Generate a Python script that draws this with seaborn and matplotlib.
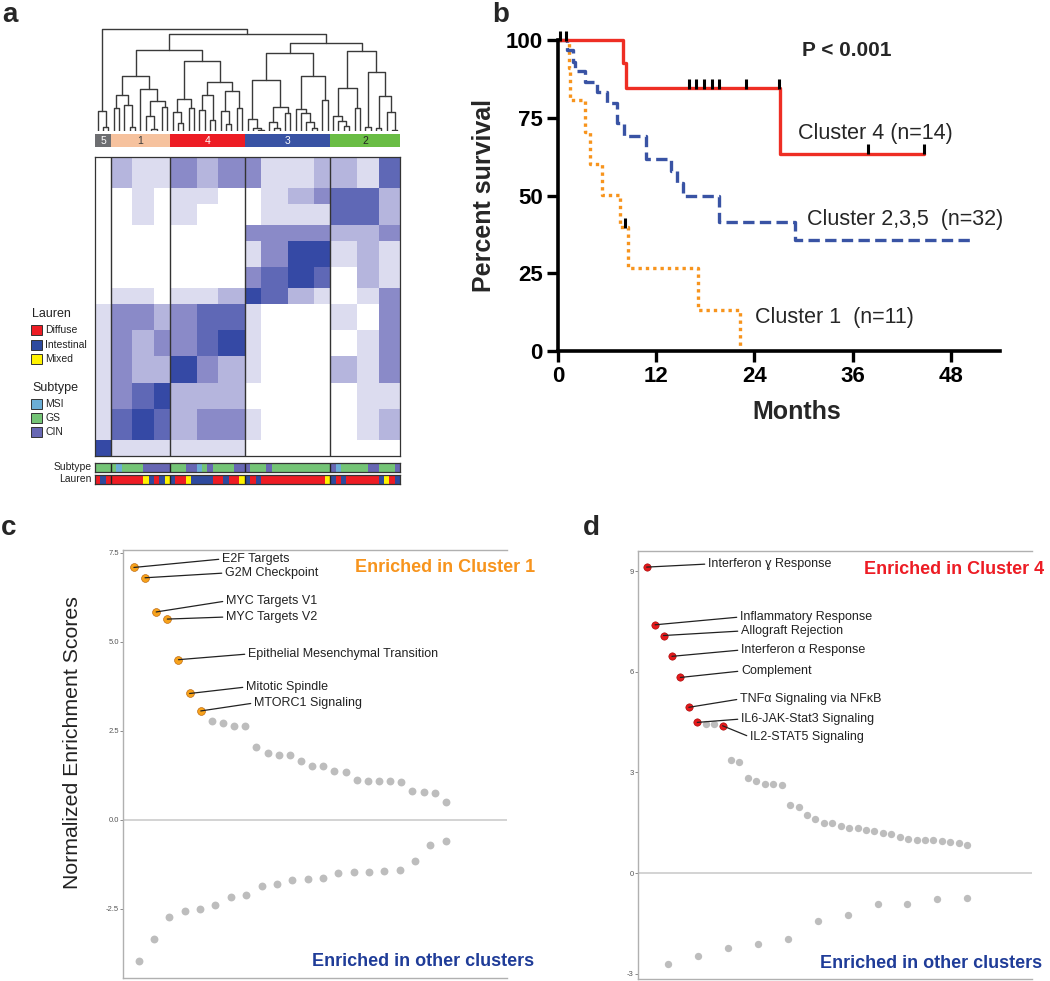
import numpy as np
import pandas as pd
import matplotlib.pyplot as plt
import seaborn as sns
from matplotlib.colors import ListedColormap
from matplotlib.patches import Rectangle

W, H = 1050, 981

# ---------------- panel a : consensus clustering ----------------
cluster_names = ['5', '1', '4', '3', '2']
cluster_sizes = [3, 11, 14, 16, 13]
cluster_colors = ['#6d6e71', '#f6c29e', '#ed1c24', '#3953a4', '#6abd45']
cluster_text = ['white', '#3a3a3a', 'white', 'white', '#222222']

L = 0  # leaf
tree_c5 = (60, L, (13, L, L))
tree_c1 = (165, (108, (68, L, L), (78, L, (11, L, L))),
           (125, L, (91, (46, L, (5, L, L)), (71, L, L))))
tree_c4 = (210, (96, (58, L, (25, L, L)), (70, L, L)),
           (146, (108, (63, L, L), (33, L, L)), (120, (61, L, (21, L, L)), (68, L, L))))
tree_c3 = (236, (152, (35, L, (8, L, (3, L, L))), (73, (28, L, (10, L, L)), (55, L, L))),
           (166, (65, L, (53, L, (28, L, (10, L, L)))), (93, L, L)))
tree_c2 = (241, (128, (46, L, (31, L, (16, L, L))), (70, L, L)),
           (178, (12, L, L), (106, (10, L, L), (56, L, (3, L, L)))))
tree = (308, tree_c5, (291, (243, tree_c1, tree_c4), (265, tree_c3, tree_c2)))

# heatmap intensity (0 = white .. 5 = dark blue), blocks of rows x blocks of samples
row_block_sizes = [6, 3, 4, 3, 5, 4, 3, 5, 5, 5, 5, 6, 3]
col_block_sizes = [3, 4, 4, 3, 5, 4, 5, 3, 5, 5, 3, 5, 4, 4]
block_levels = [
    [0, 2, 1, 1, 3, 2, 3, 3, 1, 1, 2, 2, 1, 4],
    [0, 0, 1, 0, 1, 1, 0, 0, 1, 2, 3, 4, 4, 2],
    [0, 0, 1, 0, 1, 0, 0, 0, 1, 1, 1, 4, 4, 2],
    [0, 0, 0, 0, 0, 0, 0, 3, 3, 3, 3, 2, 2, 3],
    [0, 0, 0, 0, 0, 0, 0, 1, 3, 5, 5, 1, 2, 1],
    [0, 0, 0, 0, 0, 0, 0, 3, 4, 5, 4, 0, 2, 1],
    [0, 1, 1, 0, 1, 1, 2, 5, 4, 2, 1, 0, 1, 3],
    [1, 3, 3, 2, 3, 4, 4, 1, 0, 0, 0, 1, 0, 3],
    [1, 3, 2, 3, 3, 4, 5, 1, 0, 0, 0, 0, 1, 3],
    [1, 3, 2, 2, 5, 3, 2, 1, 0, 0, 0, 2, 1, 3],
    [1, 3, 4, 5, 2, 2, 2, 0, 0, 0, 0, 0, 1, 1],
    [1, 4, 5, 4, 2, 3, 3, 1, 0, 0, 0, 0, 1, 2],
    [5, 1, 1, 1, 1, 1, 1, 0, 0, 0, 0, 0, 0, 0],
]
heat_colors = ['#ffffff', '#dcdcef', '#b5b5dd', '#8a8ac8', '#5f68b6', '#3549a5']

subtype_by_cluster = ['GGG', 'GMGGGGCCCCC', 'GGGCCMGCGGGGCC', 'CGGGCGGGGGGGGGGG', 'CMGGGGGCCGGGC']
lauren_by_cluster = ['DID', 'DDDDDDMIDIM', 'IDDMIIIIDDIDDM', 'IDIDDDDDDDDDDDDM', 'IDIDDDDDDIMDI']
subtype_codes = ['M', 'G', 'C']
subtype_names = ['MSI', 'GS', 'CIN']
subtype_colors = ['#6baed6', '#74c476', '#6767b3']
lauren_codes = ['D', 'I', 'M']
lauren_names = ['Diffuse', 'Intestinal', 'Mixed']
lauren_colors = ['#ed1c24', '#2e4a9e', '#fff200']

# ---------------- panel b : survival ----------------
c4_time = [0, 8.0, 8.3, 27.1, 44.7]
c4_surv = [100, 92.5, 84.6, 63.5, 63.5]
c235_time = [0, 1.1, 1.8, 2.1, 3.3, 4.8, 6.0, 7.2, 8.1, 10.7, 13.8, 14.5, 15.3, 19.7, 28.9, 50.8]
c235_surv = [100, 96.8, 93.0, 90.0, 86.6, 83.4, 79.8, 73.2, 69.1, 61.7, 57.9, 54.1, 49.8, 41.5, 35.6, 35.6]
c1_time = [0, 1.3, 1.5, 3.3, 3.9, 5.4, 7.6, 8.5, 17.1, 22.2]
c1_surv = [100, 90.9, 80.7, 70.5, 60.1, 50.1, 39.9, 26.7, 13.3, 0]
censor_time = [0.3, 1.0, 16.0, 16.8, 17.8, 18.8, 19.7, 23.0, 27.0, 37.9, 44.7, 8.2]
censor_surv = [100, 100, 84.6, 84.6, 84.6, 84.6, 84.6, 84.6, 84.6, 63.5, 63.5, 39.9]

# ---------------- panel c : NES cluster 1 ----------------
c_up = [7.09, 6.80, 5.84, 5.64, 4.50, 3.55, 3.06, 2.79, 2.72, 2.65, 2.65, 2.04, 1.87, 1.83,
        1.81, 1.65, 1.52, 1.52, 1.37, 1.34, 1.13, 1.10, 1.09, 1.08, 1.06, 0.81, 0.78, 0.75, 0.49]
c_down = [-3.96, -3.35, -2.74, -2.57, -2.50, -2.39, -2.16, -2.12, -1.85, -1.79, -1.69, -1.67,
          -1.63, -1.50, -1.45, -1.45, -1.43, -1.40, -1.15, -0.70, -0.58]
c_labels = ['E2F Targets', 'G2M Checkpoint', 'MYC Targets V1', 'MYC Targets V2',
            'Epithelial Mesenchymal Transition', 'Mitotic Spindle', 'MTORC1 Signaling']
c_label_idx = [0, 1, 2, 3, 4, 5, 6]

# ---------------- panel d : NES cluster 4 ----------------
d_up = [9.12, 7.40, 7.08, 6.46, 5.83, 4.94, 4.49, 4.44, 4.44, 4.39, 3.37, 3.31, 2.84, 2.75,
        2.65, 2.65, 2.62, 2.02, 1.96, 1.74, 1.60, 1.50, 1.50, 1.39, 1.35, 1.34, 1.28, 1.25,
        1.20, 1.16, 1.07, 1.01, 0.98, 0.97, 0.97, 0.95, 0.92, 0.89, 0.84]
d_down = [-2.71, -2.47, -2.23, -2.13, -1.98, -1.43, -1.25, -0.92, -0.92, -0.78, -0.74]
d_labels = ['Interferon \u0263 Response', 'Inflammatory Response', 'Allograft Rejection',
            'Interferon \u03b1 Response', 'Complement', 'TNF\u03b1 Signaling via NF\u03baB',
            'IL6-JAK-Stat3 Signaling', 'IL2-STAT5 Signaling']
d_label_idx = [0, 1, 2, 3, 4, 5, 6, 9]

sns.set_style('white')
plt.rcParams['font.family'] = ['Liberation Sans', 'DejaVu Sans']

fig = plt.figure(figsize=(W / 100, H / 100), dpi=100)


def add_ax(l, t, r, b, **kw):
    return fig.add_axes([l / W, 1 - b / H, (r - l) / W, (b - t) / H], **kw)


def draw_tree(node, ax, pos):
    if not isinstance(node, tuple):
        x = pos[0] + 0.5
        pos[0] += 1
        return x, 0
    h, left, right = node
    xl, hl = draw_tree(left, ax, pos)
    xr, hr = draw_tree(right, ax, pos)
    ax.plot([xl, xl, xr, xr], [hl, h, h, hr], color='#3a3a3a', lw=1.0)
    return (xl + xr) / 2, h


n_samp = sum(cluster_sizes)
bounds = np.cumsum(cluster_sizes)[:-1]

# dendrogram
ax_den = add_ax(95, 28, 400, 131)
draw_tree(tree, ax_den, [0])
ax_den.set_xlim(0, n_samp)
ax_den.set_ylim(0, 310)
ax_den.axis('off')

# cluster bar
ax_cl = add_ax(95, 134, 400, 147)
cl_idx = np.repeat(np.arange(len(cluster_sizes)), cluster_sizes)[None, :]
sns.heatmap(cl_idx, ax=ax_cl, cmap=ListedColormap(cluster_colors), vmin=-0.5, vmax=4.5,
            cbar=False, xticklabels=False, yticklabels=False)
starts = np.concatenate([[0], bounds])
for s, n, name, tc in zip(starts, cluster_sizes, cluster_names, cluster_text):
    ax_cl.text(s + n / 2, 0.55, name, ha='center', va='center', fontsize=7.5, color=tc)

# heatmap
ax_hm = add_ax(95, 157, 400, 456)
mat = np.repeat(np.repeat(np.array(block_levels), row_block_sizes, axis=0), col_block_sizes, axis=1)
sns.heatmap(mat, ax=ax_hm, cmap=ListedColormap(heat_colors), vmin=-0.5, vmax=5.5,
            cbar=False, xticklabels=False, yticklabels=False)
for b in bounds:
    ax_hm.axvline(b, color='#333333', lw=1.0)
for sp in ax_hm.spines.values():
    sp.set_visible(True)
    sp.set_color('#333333')
    sp.set_linewidth(0.9)

# annotation bars
sub_seq = ''.join(subtype_by_cluster)
lau_seq = ''.join(lauren_by_cluster)
for (t, b), seq, codes, cols in [((463, 472), sub_seq, subtype_codes, subtype_colors),
                                 ((475, 484), lau_seq, lauren_codes, lauren_colors)]:
    ax_an = add_ax(95, t, 400, b)
    idx = np.array([codes.index(c) for c in seq])[None, :]
    sns.heatmap(idx, ax=ax_an, cmap=ListedColormap(cols), vmin=-0.5, vmax=2.5,
                cbar=False, xticklabels=False, yticklabels=False)
    for bd in bounds:
        ax_an.axvline(bd, color='#222222', lw=1.0)
    for sp in ax_an.spines.values():
        sp.set_visible(True)
        sp.set_color('#333333')
        sp.set_linewidth(0.9)

# ---------------- panel b ----------------
ax_b = add_ax(558, 40, 1000, 351)
sns.lineplot(x=c1_time, y=c1_surv, ax=ax_b, color='#f7941d', lw=2.4, drawstyle='steps-post',
             linestyle=(0, (1, 1.2)), estimator=None, sort=False)
sns.lineplot(x=c235_time, y=c235_surv, ax=ax_b, color='#3953a4', lw=2.4, drawstyle='steps-post',
             linestyle=(0, (3.4, 1.6)), estimator=None, sort=False)
sns.lineplot(x=c4_time, y=c4_surv, ax=ax_b, color='#ee2e24', lw=2.4, drawstyle='steps-post',
             estimator=None, sort=False)
ax_b.plot(censor_time, np.array(censor_surv) + 1.4, ls='none', marker='|', color='black',
          ms=7, mew=2.2, clip_on=False)
for ln in ax_b.lines:
    ln.set_clip_on(False)
ax_b.set_xlim(0, 54)
ax_b.set_ylim(0, 100)
ax_b.set_xticks([0, 12, 24, 36, 48])
ax_b.set_yticks([0, 25, 50, 75, 100])
sns.despine(ax=ax_b)
for sp in ['left', 'bottom']:
    ax_b.spines[sp].set_linewidth(2.6)
    ax_b.spines[sp].set_color('black')
ax_b.tick_params(direction='out', length=8, width=2.4, labelsize=16, pad=3, colors='black',
                 left=True, bottom=True)
for lbl in ax_b.get_xticklabels() + ax_b.get_yticklabels():
    lbl.set_fontweight('bold')
ax_b.set_xlabel('')
ax_b.set_ylabel('')


# ---------------- panels c, d ----------------
def nes_panel(ax, up, down, hl_idx, hl_color, edge_color, labels, label_pos, neg_start,
              ylim, xlim, yticks, yticklabels, size):
    xu = np.linspace(0, 1, len(up))
    xd = np.linspace(neg_start, 1, len(down))
    df = pd.DataFrame({'x': np.concatenate([xu, xd]), 'y': np.concatenate([up, down]),
                       'hl': [i in hl_idx for i in range(len(up))] + [False] * len(down)})
    ax.axhline(0, color='#cccccc', lw=1.2, zorder=0)
    sns.scatterplot(data=df[~df.hl], x='x', y='y', color='#bdbdbd', s=size, linewidth=0,
                    ax=ax, zorder=2)
    sns.scatterplot(data=df[df.hl], x='x', y='y', color=hl_color, s=size, linewidth=0.4,
                    edgecolor=edge_color, ax=ax, zorder=3)
    for i, lab, (px, py) in zip(hl_idx, labels, label_pos):
        ax.annotate(lab, xy=(xu[i], up[i]), xytext=(px, H - py), textcoords='figure pixels',
                    ha='left', va='center', fontsize=9, color='#222222',
                    arrowprops=dict(arrowstyle='-', color='#222222', lw=0.9, relpos=(0, 0.5),
                                    shrinkA=0, shrinkB=0), zorder=4)
    ax.set_xlim(*xlim)
    ax.set_ylim(*ylim)
    ax.set_xticks([])
    ax.set_yticks(yticks)
    ax.set_yticklabels(yticklabels)
    ax.tick_params(axis='y', left=True, length=2, width=0.6, color='#777777',
                   labelsize=5.5, labelcolor='#555555', pad=1)
    ax.set_xlabel('')
    ax.set_ylabel('')
    ax.spines['right'].set_visible(False)
    for sp in ['left', 'top', 'bottom']:
        ax.spines[sp].set_color('#b0b0b0')
        ax.spines[sp].set_linewidth(1.0)


ax_c = add_ax(123, 550, 507, 978)
nes_panel(ax_c, c_up, c_down, c_label_idx, '#f7a21b', '#b35a00', c_labels,
          [(222, 559), (225, 573), (226, 601), (226, 617), (248, 654), (246, 687), (254, 703)],
          0.015, (-4.44, 7.58), (-0.035, 1.196), [-2.5, 0, 2.5, 5, 7.5],
          ['-2.5', '0.0', '2.5', '5.0', '7.5'], 32)

ax_d = add_ax(638, 551, 1032, 979)
nes_panel(ax_d, d_up, d_down, d_label_idx, '#e41a1c', '#a00000', d_labels,
          [(708, 564), (740, 617), (741, 631), (741, 650), (741, 671), (740, 699), (741, 719),
           (750, 737)],
          0.067, (-3.16, 9.60), (-0.027, 1.202), [-3, 0, 3, 6, 9],
          ['-3', '0', '3', '6', '9'], 28)

# ---------------- overlay text ----------------
ov = fig.add_axes([0, 0, 1, 1], zorder=10)
ov.set_xlim(0, W)
ov.set_ylim(H, 0)
ov.axis('off')
ov.patch.set_alpha(0)

for ch, x, y in [('a', 2, 22), ('b', 492, 22), ('c', 1, 535), ('d', 583, 535)]:
    ov.text(x, y, ch, fontsize=20, fontweight='bold', ha='left', va='baseline')

# legend
for title, ty, names, cols, ys in [('Lauren', 314, lauren_names, lauren_colors, [330, 345, 359]),
                                   ('Subtype', 388, subtype_names, subtype_colors, [404, 418, 432])]:
    ov.text(32, ty, title, fontsize=9, va='center', ha='left', color='#222222')
    for name, col, y in zip(names, cols, ys):
        ov.add_patch(Rectangle((31, y - 5), 11, 10, facecolor=col, edgecolor='#333333', lw=0.7))
        ov.text(45, y, name, fontsize=7.5, va='center', ha='left', color='#222222')
ov.text(92, 467.5, 'Subtype', fontsize=7.5, ha='right', va='center', color='#222222')
ov.text(92, 479.5, 'Lauren', fontsize=7.5, ha='right', va='center', color='#222222')

# survival labels
ov.text(802, 50, 'P < 0.001', fontsize=15, fontweight='bold', ha='left', va='center')
ov.text(798, 133, 'Cluster 4 (n=14)', fontsize=15.5, ha='left', va='center')
ov.text(807, 220, 'Cluster 2,3,5  (n=32)', fontsize=15.5, ha='left', va='center')
ov.text(755, 318, 'Cluster 1  (n=11)', fontsize=15.5, ha='left', va='center')
ov.text(484, 195, 'Percent survival', fontsize=18, fontweight='bold', rotation=90,
        ha='center', va='center')
ov.text(797, 412, 'Months', fontsize=18, fontweight='bold', ha='center', va='center')

# NES labels
ov.text(73, 743, 'Normalized Enrichment Scores', fontsize=15.3, rotation=90,
        ha='center', va='center', color='#222222')
ov.text(355, 567, 'Enriched in Cluster 1', fontsize=13, fontweight='bold', color='#f7941d',
        ha='left', va='center')
ov.text(312, 961, 'Enriched in other clusters', fontsize=13, fontweight='bold', color='#1f3c98',
        ha='left', va='center')
ov.text(864, 570, 'Enriched in Cluster 4', fontsize=13, fontweight='bold', color='#ed1c24',
        ha='left', va='center')
ov.text(820, 964, 'Enriched in other clusters', fontsize=13, fontweight='bold', color='#1f3c98',
        ha='left', va='center')

fig.savefig('out.png', dpi=100)
